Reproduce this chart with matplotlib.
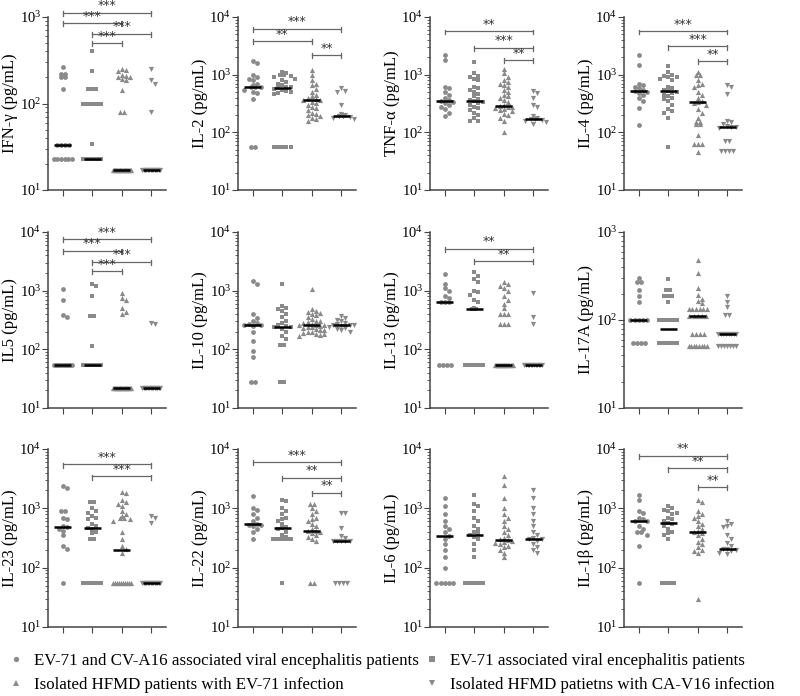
import numpy as np
import matplotlib
matplotlib.use('Agg')
import matplotlib.pyplot as plt
from matplotlib.lines import Line2D

plt.rcParams['font.family'] = 'serif'
plt.rcParams['font.serif'] = ['Liberation Serif', 'DejaVu Serif']
plt.rcParams['mathtext.fontset'] = 'custom'
plt.rcParams['mathtext.rm'] = 'Liberation Serif'

# Panel titles (y labels) and y ranges
labels = ['IFN-γ (pg/mL)', 'IL-2 (pg/mL)', 'TNF-α (pg/mL)', 'IL-4 (pg/mL)',
          'IL5 (pg/mL)', 'IL-10 (pg/mL)', 'IL-13 (pg/mL)', 'IL-17A (pg/mL)',
          'IL-23 (pg/mL)', 'IL-22 (pg/mL)', 'IL-6 (pg/mL)', 'IL-1β (pg/mL)']
ytop = [1e3, 1e4, 1e4, 1e4, 1e4, 1e4, 1e4, 1e3, 1e4, 1e4, 1e4, 1e4]

group_names = ['EV-71 and CV-A16 associated viral encephalitis patients',
               'EV-71 associated viral encephalitis patients',
               'Isolated HFMD patients with EV-71 infection',
               'Isolated HFMD patietns with CA-V16 infection']

# Data per cytokine: 4 groups each
ifng = [[265, 220, 200, 200, 220, 148, 33, 33, 33, 33, 23, 23, 23, 23, 23, 23],
        [400, 235, 148, 148, 148] + [100] * 6 + [34] + [23] * 14,
        [250, 240, 245, 215, 205, 200, 210, 185, 190, 145, 80, 80] + [17] * 22,
        [250, 185, 170, 80] + [17] * 14]
il2 = [[1700, 1600, 1000, 900, 850, 800, 700, 650, 620, 620, 600, 550, 500, 480, 380, 55, 55],
       [1100, 1050, 1000, 1000, 950, 900, 850, 800, 750, 700, 650, 620, 600, 580, 560, 540,
        520, 500, 480, 460, 55, 55, 55, 55, 55],
       [1200, 1000, 800, 700, 650, 560, 500, 450, 420, 400, 380, 370, 360, 340, 320, 300,
        280, 260, 240, 220, 210, 200, 190, 180, 170, 160],
       [580, 520, 500, 300, 210, 200, 195, 195, 190, 190, 185, 180, 170]]
tnfa = [[2200, 1800, 620, 580, 500, 450, 400, 360, 350, 340, 320, 300, 280, 250, 220, 190],
        [1650, 1050, 950, 900, 850, 800, 620, 580, 550, 500, 460, 420, 380, 360, 350, 340,
         320, 300, 280, 260, 240, 220, 200, 180, 160, 155],
        [1250, 1050, 900, 800, 750, 700, 650, 600, 550, 500, 450, 420, 400, 360, 330, 300,
         290, 280, 270, 260, 250, 240, 230, 210, 200, 180, 160, 100],
        [520, 480, 400, 300, 280, 190, 180, 170, 170, 165, 160, 150, 140]]
il4 = [[2200, 1500, 700, 650, 620, 580, 540, 520, 500, 480, 450, 400, 350, 260, 135],
       [1400, 1100, 1000, 950, 920, 900, 850, 800, 620, 580, 540, 520, 500, 480, 450, 420,
        400, 380, 350, 300, 250, 230, 220, 180, 55],
       [1100, 1000, 1000, 800, 700, 650, 600, 500, 450, 400, 350, 330, 320, 300, 250, 220,
        180, 150, 150, 140, 140, 90, 62, 62, 62, 45],
       [650, 600, 460, 160, 150, 140, 130, 125, 122, 120, 70, 70, 47, 47, 47, 47]]
il5 = [[1050, 700, 390, 360] + [55] * 12,
       [1300, 1200, 800, 370, 370, 115] + [55] * 14,
       [900, 750, 680, 500, 430, 400] + [22] * 22,
       [285, 270] + [22] * 14]
il10 = [[1450, 1300, 400, 340, 300, 280, 270, 265, 260, 250, 200, 140, 95, 75, 28, 28],
        [1300, 550, 500, 480, 450, 400, 350, 300, 280, 260, 250, 245, 240, 220, 200, 170,
         150, 120, 120, 28, 28],
        [1050, 480, 450, 430, 420, 400, 380, 350, 330, 310, 300, 290, 280, 270, 265, 260,
         255, 250, 245, 240, 230, 220, 215, 210, 200, 195, 190, 185, 180, 175, 170],
        [370, 340, 320, 300, 280, 270, 265, 260, 255, 250, 240, 230, 220, 210, 200]]
il13 = [[1900, 1300, 1100, 1000, 800, 750, 650, 650, 650] + [55] * 4,
        [2100, 1800, 1600, 1400, 1000, 950, 850, 700, 650, 500, 490, 490] + [55] * 10,
        [1400, 1300, 1200, 1100, 1000, 800, 700, 600, 500, 400, 400, 400, 270, 270, 270] + [55] * 18,
        [900, 350, 270] + [55] * 12]
il17a = [[300, 270, 270, 220, 185, 160] + [100] * 5 + [55] * 4,
         [290, 220, 220, 185, 185, 185, 160] + [100] * 6 + [55] * 7,
         [480, 340, 230, 190, 175, 165, 155] + [135] * 6 + [112] * 5 + [70] * 4 + [50] * 8,
         [185, 160, 140, 115, 115] + [70] * 8 + [50] * 7]
il23 = [[2400, 2200, 900, 900, 700, 650, 500, 480, 450, 420, 350, 230, 210, 55],
        [1300, 1300, 1000, 900, 850, 750, 700, 650, 550, 500, 470, 450, 400, 380, 300, 300] + [55] * 8,
        [1900, 1800, 1400, 1300, 1200, 1100, 900, 800, 750, 700, 700, 650, 600, 400, 300,
         230, 210, 180] + [55] * 10,
        [750, 700, 570] + [55] * 14]
il22 = [[1600, 1000, 950, 800, 700, 600, 550, 530, 520, 500, 450, 400, 300],
        [1400, 1350, 1000, 900, 800, 700, 650, 600, 550, 480, 460, 440, 400, 350, 330] + [305] * 6 + [55],
        [1200, 1200, 1000, 900, 800, 700, 650, 600, 550, 500, 450, 420, 410, 400, 380, 350,
         330, 300, 280, 55, 55],
        [850, 820, 470, 340, 320] + [280] * 5 + [55] * 4]
il6 = [[1500, 1100, 800, 600, 500, 450, 400, 340, 300, 250, 200, 150, 100] + [55] * 5,
       [1700, 1200, 1100, 900, 700, 600, 500, 450, 400, 380, 350, 330, 300, 250, 200, 150] + [55] * 6,
       [3500, 2500, 1500, 1000, 800, 700, 600, 500, 450, 400, 350, 320, 300, 290, 280, 270,
        260, 250, 230, 220, 200, 180, 150],
       [2000, 1500, 1000, 800, 600, 500, 400, 350, 320, 310, 300, 280, 250, 220, 200, 180]]
il1b = [[1700, 1400, 900, 850, 700, 650, 620, 600, 500, 450, 400, 400, 350, 230, 55],
        [1100, 1000, 950, 900, 850, 800, 700, 650, 600, 570, 550, 500, 450, 400, 380, 350, 300] + [55] * 4,
        [1400, 1300, 900, 800, 750, 700, 600, 550, 500, 450, 420, 400, 380, 350, 300, 270,
         250, 220, 200, 190, 180, 30],
        [600, 550, 500, 480, 350, 300, 260, 230, 210, 205, 200, 190, 180, 170]]
all_data = [ifng, il2, tnfa, il4, il5, il10, il13, il17a, il23, il22, il6, il1b]

# Median lines
medians = [[33, 23, 17, 17], [620, 580, 370, 195], [350, 350, 285, 170], [520, 520, 330, 122],
           [55, 55, 22, 22], [265, 245, 260, 260], [650, 490, 55, 55], [100, 78, 112, 70],
           [480, 470, 200, 55], [540, 460, 410, 280], [340, 350, 290, 310], [600, 570, 400, 205]]

# Significance brackets: (group a, group b, stars, height in axes fraction)
brackets = [
    [(1, 4, '***', 1.025), (1, 3, '***', 0.965), (2, 4, '***', 0.903), (2, 3, '***', 0.850)],
    [(1, 4, '***', 0.933), (1, 3, '**', 0.861), (3, 4, '**', 0.781)],
    [(1, 4, '**', 0.917), (2, 4, '***', 0.823), (3, 4, '**', 0.751)],
    [(1, 4, '***', 0.917), (2, 4, '***', 0.830), (3, 4, '**', 0.745)],
    [(1, 4, '***', 0.959), (1, 3, '***', 0.893), (2, 4, '***', 0.832), (2, 3, '***', 0.779)],
    [],
    [(1, 4, '**', 0.906), (2, 4, '**', 0.835)],
    [],
    [(1, 4, '***', 0.914), (2, 4, '***', 0.846)],
    [(1, 4, '***', 0.926), (2, 4, '**', 0.838), (3, 4, '**', 0.754)],
    [],
    [(1, 4, '**', 0.962), (2, 4, '**', 0.891), (3, 4, '**', 0.787)],
]

markers = ['o', 's', '^', 'v']
sizes = [12, 10, 14, 14]
gray = '#8a8a8a'


def swarm_offsets(vals, lo, hi, d=0.14, dy=0.024):
    """simple deterministic beeswarm: returns x offsets for each value"""
    frac = lambda v: (np.log10(v) - np.log10(lo)) / (np.log10(hi) - np.log10(lo))
    placed = []
    out_v, out_x = [], []
    for v in sorted(set(vals), reverse=True):
        n = vals.count(v)
        yf = frac(v)
        if n > 1:
            step = min(d, 0.6 / (n - 1))
            for o in (np.arange(n) - (n - 1) / 2) * step:
                placed.append((o, yf))
                out_v.append(v)
                out_x.append(o)
            continue
        cands = [0, 1, -1, 2, -2, 3, -3]
        best, best_hits = 0, 1e9
        for k in cands:
            o = k * d
            hits = sum(1 for px, py in placed if abs(o - px) < d * 0.95 and abs(yf - py) < dy)
            if hits < best_hits:
                best, best_hits = o, hits
            if hits == 0:
                break
        placed.append((best, yf))
        out_v.append(v)
        out_x.append(best)
    return np.array(out_x), np.array(out_v)


fig = plt.figure(figsize=(8, 6.96), dpi=100)

col_x = [48, 238, 430, 624]
row_y = [(17, 190), (232, 408), (449, 627)]
W, H = 800, 696

for idx in range(12):
    r, c = divmod(idx, 4)
    top, bot = row_y[r]
    ax = fig.add_axes([col_x[c] / W, 1 - bot / H, 118 / W, (bot - top) / H])
    lo, hi = 10, ytop[idx]
    ax.set_yscale('log')
    ax.set_ylim(lo, hi)
    ax.set_xlim(0.5, 4.5)

    for g in range(4):
        xo, vv = swarm_offsets(all_data[idx][g], lo, hi)
        ax.scatter(g + 1 + xo, vv, marker=markers[g], s=sizes[g], color=gray,
                   linewidths=0, zorder=2)
        ax.hlines(medians[idx][g], g + 1 - 0.28, g + 1 + 0.28, color='black', lw=1.8, zorder=3)

    # significance brackets
    tr = ax.get_xaxis_transform()
    for a, b, stars, h in brackets[idx]:
        ax.plot([a, b], [h, h], color='#666666', lw=0.9, transform=tr, clip_on=False)
        for xe in (a, b):
            ax.plot([xe, xe], [h - 0.018, h + 0.01], color='#666666', lw=0.9,
                    transform=tr, clip_on=False)
        ax.text((a + b) / 2, h + 0.002, stars, transform=tr, ha='center', va='bottom',
                fontsize=9, family='DejaVu Sans', color='#333333')

    ax.spines['top'].set_visible(False)
    ax.spines['right'].set_visible(False)
    for s in ('left', 'bottom'):
        ax.spines[s].set_color('#444444')
        ax.spines[s].set_linewidth(1.1)
    ax.set_xticks([1, 2, 3, 4])
    ax.set_xticklabels([])
    ax.tick_params(axis='x', length=4, color='#444444')
    ax.tick_params(axis='y', which='major', length=4, color='#444444', labelsize=10.5, pad=1)
    ax.tick_params(axis='y', which='minor', length=2, color='#444444')
    ax.set_ylabel(labels[idx], fontsize=12, labelpad=1)

# legend at the bottom
handles = [Line2D([], [], marker=markers[g], color=gray, linestyle='none', markersize=3.8,
                  markeredgewidth=0) for g in range(4)]
fig.legend([handles[0], handles[2], handles[1], handles[3]],
           [group_names[0], group_names[2], group_names[1], group_names[3]],
           ncol=2, loc='lower left', bbox_to_anchor=(-0.008, -0.018), frameon=False,
           fontsize=12.2, handletextpad=0.6, columnspacing=0.3, labelspacing=0.5,
           handlelength=0.9)

fig.savefig('out.png', dpi=100)
